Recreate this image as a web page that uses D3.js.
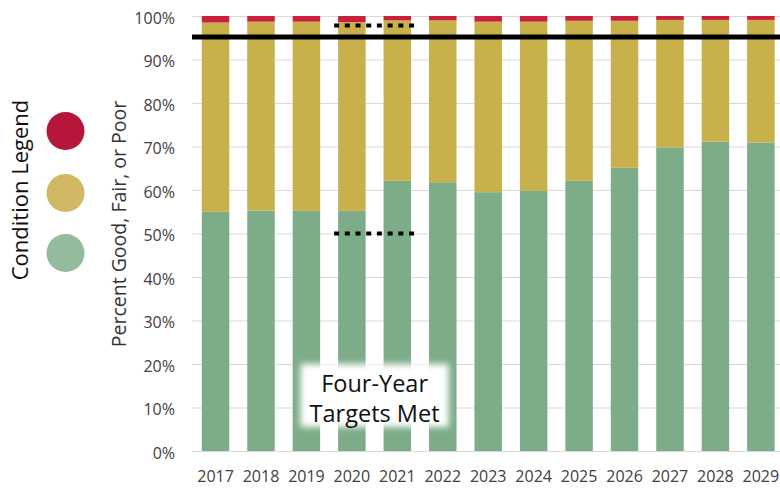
<!DOCTYPE html>
<html><head><meta charset="utf-8">
<script src="https://cdn.jsdelivr.net/npm/d3@7"></script>
<style>body{margin:0;background:#fff}svg{display:block;font-family:"Open Sans","Noto Sans",sans-serif}</style>
</head><body><svg id="c" width="780" height="489"></svg>
<script>
const years = ["2017","2018","2019","2020","2021","2022","2023","2024","2025","2026","2027","2028","2029"];
const good = [55.0,55.3,55.2,55.2,62.1,61.8,59.5,59.8,62.1,65.1,69.8,71.1,70.9];
const fair = [43.5,43.4,43.5,43.4,36.9,37.2,39.2,38.9,36.8,33.8,29.3,28.0,28.2];
const poor = [1.5,1.3,1.3,1.4,1.0,1.0,1.3,1.3,1.1,1.1,0.9,0.9,0.9];
const yTicks = [0,10,20,30,40,50,60,70,80,90,100];
const targetLine = 95.2;
const dotted = [{from:"2020",to:"2021",value:97.8},{from:"2020",to:"2021",value:50}];
const legendColors = ["#b5173b","#d1b865","#94bb9b"];
const colors = {good:"#7dad88",fair:"#c8b04b",poor:"#c8203d"};

const svg = d3.select("#c");
const x = d3.scaleBand().domain(years).range([192.7,783.7]).paddingInner(0.395).paddingOuter(0.2);
const y = d3.scaleLinear().domain([0,100]).range([451,16]);

const defs = svg.append("defs");
defs.append("filter").attr("id","blur").attr("x","-20%").attr("y","-20%").attr("width","140%").attr("height","140%")
  .append("feGaussianBlur").attr("stdDeviation",3);

// gridlines
svg.append("g").selectAll("line").data(yTicks).join("line")
  .attr("x1",192).attr("x2",780).attr("y1",d=>y(d)+0.5).attr("y2",d=>y(d)+0.5)
  .attr("stroke","#d9d9d9").attr("stroke-width",1);

// y axis labels
const yAxis = d3.axisLeft(y).tickValues(yTicks).tickFormat(d=>d+"%").tickSize(0).tickPadding(0);
const ya = svg.append("g").attr("transform","translate(175,2)").call(yAxis);
ya.select(".domain").remove();
ya.selectAll("text").attr("font-size",16).attr("fill","#404040").attr("font-family","'Open Sans',sans-serif");

// x axis labels
const xAxis = d3.axisBottom(x).tickSize(0).tickPadding(0);
const xa = svg.append("g").attr("transform","translate(0,471)").call(xAxis);
xa.select(".domain").remove();
xa.selectAll("text").attr("font-size",16).attr("fill","#404040").attr("font-family","'Open Sans',sans-serif");

// stacked bars
const rows = years.map((yr,i)=>({year:yr,good:good[i],fair:fair[i],poor:poor[i]}));
const stack = d3.stack().keys(["good","fair","poor"])(rows);
svg.append("g").selectAll("g").data(stack).join("g").attr("fill",d=>colors[d.key])
  .selectAll("rect").data(d=>d).join("rect")
  .attr("x",d=>x(d.data.year)).attr("width",x.bandwidth())
  .attr("y",d=>y(d[1])).attr("height",d=>y(d[0])-y(d[1]));

// target line
svg.append("line").attr("x1",192).attr("x2",780).attr("y1",y(targetLine)).attr("y2",y(targetLine))
  .attr("stroke","#000").attr("stroke-width",5);

// dotted lines
svg.append("g").selectAll("line").data(dotted).join("line")
  .attr("x1",d=>x(d.from)-4).attr("x2",d=>x(d.to)+x.bandwidth()+4)
  .attr("y1",d=>y(d.value)).attr("y2",d=>y(d.value))
  .attr("stroke","#000").attr("stroke-width",4).attr("stroke-dasharray","5,5.7");

// text box
const bx = (x("2020")+x("2021")+x.bandwidth())/2;
svg.append("rect").attr("x",bx-74).attr("y",364).attr("width",148).attr("height",63)
  .attr("fill","#fff").attr("filter","url(#blur)");
svg.append("text").attr("x",bx).attr("y",392).attr("text-anchor","middle").attr("font-size",23.5).attr("fill","#111").text("Four-Year");
svg.append("text").attr("x",bx).attr("y",422).attr("text-anchor","middle").attr("font-size",23.5).attr("fill","#111").text("Targets Met");

// y title
svg.append("text").attr("transform","translate(126,224) rotate(-90)").attr("text-anchor","middle")
  .attr("font-size",19.5).attr("fill","#333").text("Percent Good, Fair, or Poor");

// legend
svg.append("text").attr("transform","translate(28,190) rotate(-90)").attr("text-anchor","middle")
  .attr("font-size",22).attr("fill","#111").text("Condition Legend");
svg.append("g").selectAll("circle").data(legendColors).join("circle")
  .attr("cx",65.5).attr("cy",(d,i)=>[131,193,253][i]).attr("r",19).attr("fill",d=>d);
</script></body></html>
